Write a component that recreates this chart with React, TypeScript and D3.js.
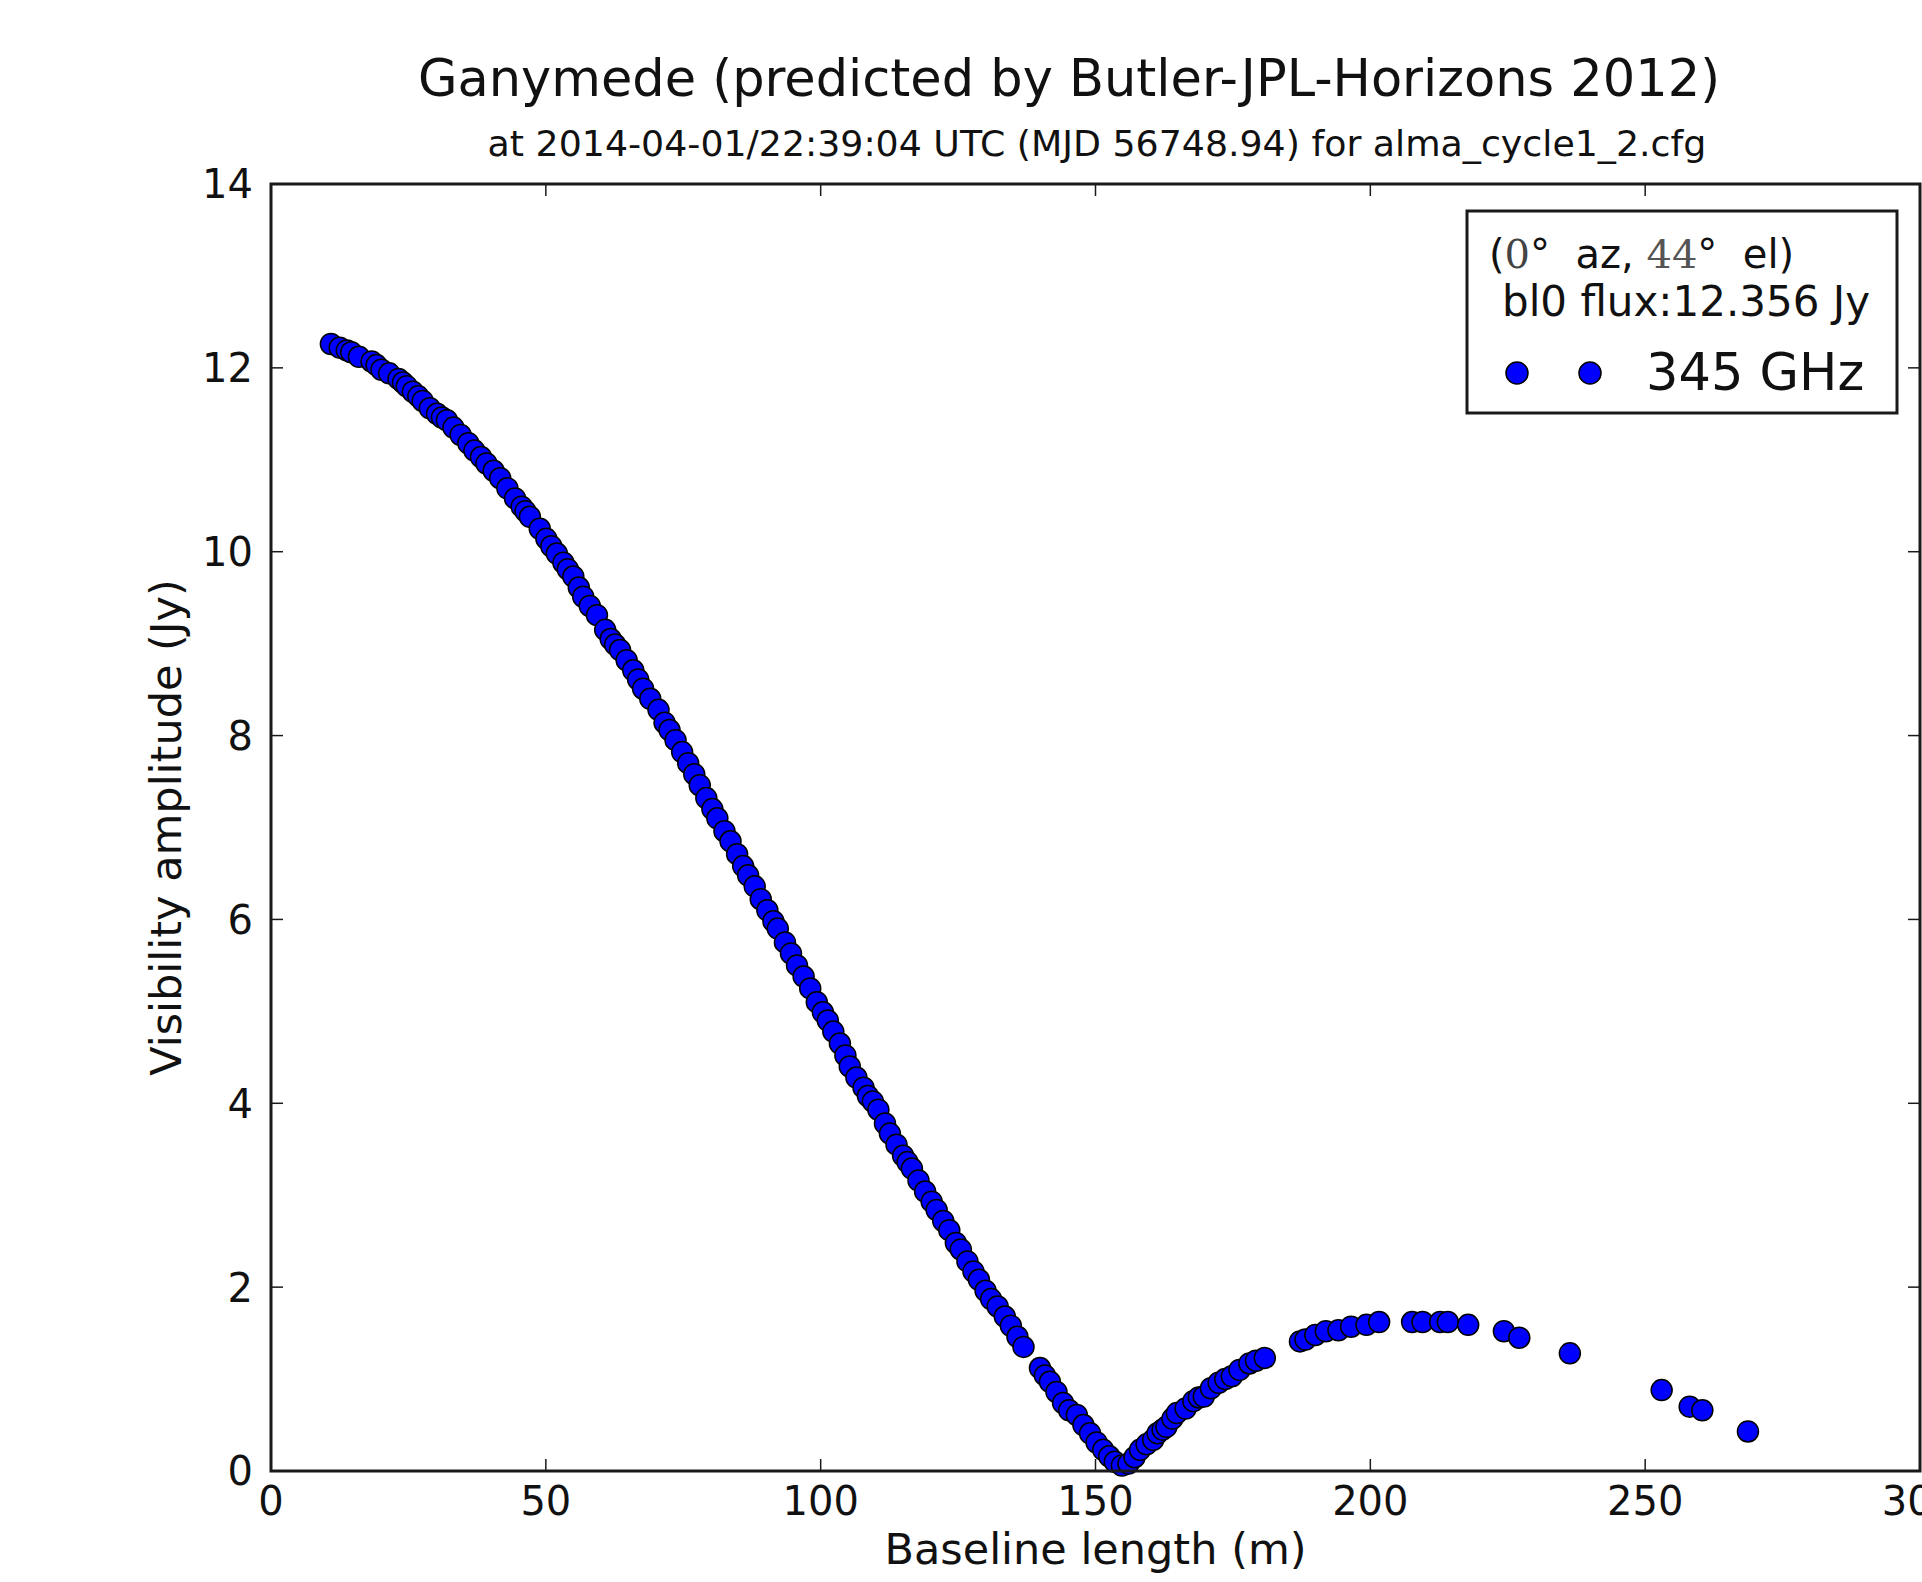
import React from "react";
import * as d3 from "d3";

const baselineX = [
  10.9, 12.5, 13.8, 14.6, 16.0, 18.3, 19.2, 20.1, 21.5, 23.2, 24.0, 24.7, 25.8, 26.8, 27.6, 28.9, 30.2, 31.1, 32.0, 33.2,
  34.5, 35.9, 37.0, 38.2, 39.2, 40.5, 41.7, 43.0, 44.4, 45.6, 46.3, 47.1, 48.9, 50.1, 51.0, 52.0, 53.2, 54.0, 55.0, 56.0,
  56.8, 58.0, 59.3, 60.8, 61.8, 62.6, 63.5, 64.7, 65.9, 66.8, 67.7, 69.0, 70.5, 71.6, 72.5, 73.6, 74.8, 75.9, 77.0, 78.0,
  79.2, 80.3, 81.2, 82.5, 83.6, 84.8, 85.9, 86.8, 88.0, 89.1, 90.3, 91.4, 92.2, 93.5, 94.6, 95.7, 96.9, 98.1, 99.3, 100.4,
  101.3, 102.3, 103.5, 104.5, 105.3, 106.5, 107.8, 108.6, 109.5, 110.5, 111.7, 112.6, 113.8, 115.0, 115.8, 116.6, 117.8, 119.0, 120.2, 121.1,
  122.3, 123.4, 124.6, 125.5, 126.7, 127.8, 128.8, 130.0, 131.0, 132.2, 133.5, 134.6, 135.8, 136.9, 139.9, 140.8, 141.7, 142.9, 144.1, 145.2,
  146.6, 147.8, 149.0, 150.2, 151.4, 152.5, 153.5, 154.8, 156.0, 157.1, 158.1, 159.3, 160.5, 161.3, 162.2, 162.9, 164.0, 164.8, 166.4, 167.8,
  168.8, 169.7, 171.0, 172.4, 173.6, 174.8, 176.2, 178.0, 179.2, 180.8, 187.2, 188.2, 190.0, 191.9, 194.2, 196.5, 199.3, 201.6, 207.6, 209.5,
  212.7, 214.1, 217.8, 224.3, 227.1, 236.3, 253.0, 258.1, 260.4, 268.7,
];
const amplitudeJy = [
  12.26, 12.22, 12.19, 12.17, 12.12, 12.07, 12.03, 11.98, 11.94, 11.88, 11.84, 11.80, 11.74, 11.69, 11.64, 11.56, 11.50, 11.46, 11.43, 11.35,
  11.27, 11.18, 11.10, 11.03, 10.96, 10.88, 10.80, 10.69, 10.58, 10.49, 10.44, 10.38, 10.25, 10.14, 10.06, 9.98, 9.88, 9.81, 9.73, 9.61,
  9.51, 9.41, 9.31, 9.15, 9.05, 8.99, 8.93, 8.82, 8.71, 8.61, 8.51, 8.40, 8.28, 8.14, 8.06, 7.95, 7.82, 7.70, 7.58, 7.46,
  7.32, 7.20, 7.10, 6.96, 6.85, 6.71, 6.58, 6.48, 6.36, 6.22, 6.10, 5.98, 5.90, 5.75, 5.63, 5.50, 5.38, 5.25, 5.10, 4.99,
  4.90, 4.78, 4.65, 4.52, 4.40, 4.28, 4.17, 4.08, 4.02, 3.93, 3.78, 3.67, 3.55, 3.43, 3.36, 3.29, 3.16, 3.04, 2.93, 2.84,
  2.72, 2.62, 2.48, 2.41, 2.28, 2.17, 2.08, 1.96, 1.87, 1.79, 1.68, 1.58, 1.46, 1.35, 1.12, 1.04, 0.97, 0.86, 0.74, 0.66,
  0.61, 0.50, 0.41, 0.31, 0.23, 0.16, 0.10, 0.06, 0.08, 0.15, 0.23, 0.29, 0.34, 0.41, 0.45, 0.48, 0.57, 0.63, 0.68, 0.76,
  0.80, 0.81, 0.90, 0.96, 1.00, 1.03, 1.10, 1.17, 1.20, 1.23, 1.41, 1.43, 1.48, 1.52, 1.53, 1.57, 1.59, 1.62, 1.62, 1.62,
  1.62, 1.62, 1.59, 1.52, 1.45, 1.28, 0.88, 0.70, 0.66, 0.43,
];
const xTicks = [0, 50, 100, 150, 200, 250, 300];
const yTicks = [0, 2, 4, 6, 8, 10, 12, 14];

const titleText = "Ganymede (predicted by Butler-JPL-Horizons 2012)";
const subtitleText = "at 2014-04-01/22:39:04 UTC (MJD 56748.94) for alma_cycle1_2.cfg";
const xLabel = "Baseline length (m)";
const yLabel = "Visibility amplitude (Jy)";
const legendFlux = "bl0 flux:12.356 Jy";
const legendSeries = "345 GHz";

const W = 1922;
const H = 1582;
const L = 271, R = 1920, T = 184, B = 1471;
const FONT = "'DejaVu Sans', sans-serif";

export default function App() {
  const x = d3.scaleLinear().domain([0, 300]).range([L, R]);
  const y = d3.scaleLinear().domain([0, 14]).range([B, T]);
  const tickLen = 12;
  const axisColor = "#1a1a1a";

  return (
    <svg
      width={W}
      height={H}
      style={{ position: "absolute", left: 0, top: 0, background: "#fff" }}
      fontFamily={FONT}
    >
      <rect x={0} y={0} width={W} height={H} fill="#fff" />
      <text x={1069} y={96} fontSize={51} textAnchor="middle" fill="#111">{titleText}</text>
      <text x={1097} y={156} fontSize={36.3} textAnchor="middle" fill="#111">{subtitleText}</text>

      {/* ticks (inward, all four sides) */}
      {xTicks.map((t) => (
        <g key={"xt" + t}>
          <line x1={x(t)} x2={x(t)} y1={B} y2={B - tickLen} stroke={axisColor} strokeWidth={1.5} />
          <line x1={x(t)} x2={x(t)} y1={T} y2={T + tickLen} stroke={axisColor} strokeWidth={1.5} />
          <text x={x(t)} y={1515} fontSize={40} textAnchor="middle" fill="#111">{t}</text>
        </g>
      ))}
      {yTicks.map((t) => (
        <g key={"yt" + t}>
          <line x1={L} x2={L + tickLen} y1={y(t)} y2={y(t)} stroke={axisColor} strokeWidth={1.5} />
          <line x1={R} x2={R - tickLen} y1={y(t)} y2={y(t)} stroke={axisColor} strokeWidth={1.5} />
          <text x={253} y={y(t)} dy="0.36em" fontSize={40} textAnchor="end" fill="#111">{t}</text>
        </g>
      ))}

      {/* points */}
      <g>
        {baselineX.map((bx, i) => (
          <circle key={i} cx={x(bx)} cy={y(amplitudeJy[i])} r={10.5} fill="#0000ff" stroke="#000" strokeWidth={1.5} />
        ))}
      </g>

      {/* spines */}
      <rect x={L} y={T} width={R - L} height={B - T} fill="none" stroke={axisColor} strokeWidth={3} />

      <text x={(L + R) / 2} y={1564} fontSize={43} textAnchor="middle" fill="#111">{xLabel}</text>
      <text transform={`translate(181, ${(T + B) / 2}) rotate(-90)`} fontSize={43} textAnchor="middle" fill="#111">{yLabel}</text>

      {/* legend */}
      <g>
        <rect x={1467} y={211} width={430} height={202} fill="#fff" stroke={axisColor} strokeWidth={3} />
        <text x={1489} y={268} fontSize={40} fill="#111" style={{ whiteSpace: "pre" }}>
          <tspan>(</tspan>
          <tspan fontFamily="'DejaVu Serif', serif" fill="#444">0</tspan>
          <tspan>{"°  az, "}</tspan>
          <tspan fontFamily="'DejaVu Serif', serif" fill="#555">44</tspan>
          <tspan>{"°  el)"}</tspan>
        </text>
        <text x={1502} y={316} fontSize={42} fill="#111">{legendFlux}</text>
        <circle cx={1517} cy={373} r={11} fill="#0000ff" stroke="#000" strokeWidth={1.5} />
        <circle cx={1590} cy={373} r={11} fill="#0000ff" stroke="#000" strokeWidth={1.5} />
        <text x={1646} y={390} fontSize={51} fill="#111">{legendSeries}</text>
      </g>
    </svg>
  );
}
